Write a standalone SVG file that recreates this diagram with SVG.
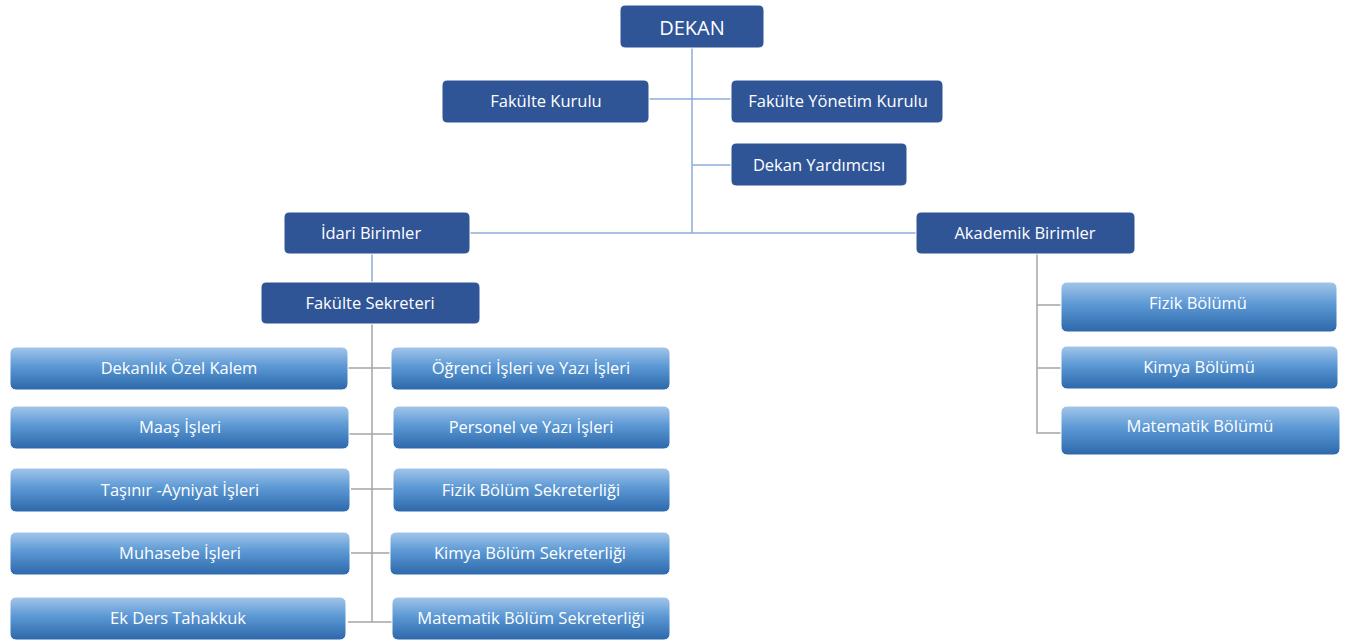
<svg xmlns="http://www.w3.org/2000/svg" width="1356" height="641" viewBox="0 0 1356 641">
<defs>
<linearGradient id="lg" x1="0" y1="0" x2="0" y2="1">
<stop offset="0" stop-color="#a3c6ea"/>
<stop offset="0.45" stop-color="#5b98d4"/>
<stop offset="1" stop-color="#2c68aa"/>
</linearGradient>
<style>
.dk{fill:#2f5597;stroke:#ffffff;stroke-width:1}
.lt{fill:url(#lg);stroke:#ffffff;stroke-width:1}
.t{font-family:"Open Sans","Liberation Sans",sans-serif;font-size:16.5px;fill:#ffffff;text-anchor:middle;dominant-baseline:central}
.bl{stroke:#8eaadb;stroke-width:1.5;fill:none}
.gr{stroke:#a5a5a5;stroke-width:1.5;fill:none}
</style>
</defs>
<rect width="1356" height="641" fill="#ffffff"/>
<g id="connectors">
<path class="bl" d="M692 48V233M649 99H731M692 165H731M470 233H916M372 254V282"/>
<path class="gr" d="M372 324V622M348 368H391M349 434H393M351 489H393M351 553H390M348 622H393"/>
<path class="gr" d="M1037 254V433H1061M1037 305H1061M1037 368H1061"/>
</g>
<g id="dekan"><rect class="dk" x="620" y="5" width="144" height="43" rx="5"/><text class="t" x="692" y="27" style="font-size:20px">DEKAN</text></g>
<g id="fakulte-kurulu"><rect class="dk" x="442" y="80" width="207" height="43" rx="5"/><text class="t" x="546" y="100">Fakülte Kurulu</text></g>
<g id="fakulte-yonetim-kurulu"><rect class="dk" x="731" y="80" width="212" height="43" rx="5"/><text class="t" x="838" y="100">Fakülte Yönetim Kurulu</text></g>
<g id="dekan-yardimcisi"><rect class="dk" x="731" y="143" width="176" height="43" rx="5"/><text class="t" x="819" y="164">Dekan Yardımcısı</text></g>
<g id="idari-birimler"><rect class="dk" x="284" y="212" width="186" height="42" rx="5"/><text class="t" x="371" y="232">İdari Birimler</text></g>
<g id="akademik-birimler"><rect class="dk" x="916" y="212" width="219" height="42" rx="5"/><text class="t" x="1025" y="232">Akademik Birimler</text></g>
<g id="fakulte-sekreteri"><rect class="dk" x="261" y="282" width="219" height="42" rx="5"/><text class="t" x="370" y="302">Fakülte Sekreteri</text></g>
<g id="fizik-bolumu"><rect class="lt" x="1061" y="282" width="276" height="50" rx="6"/><text class="t" x="1198" y="302">Fizik Bölümü</text></g>
<g id="kimya-bolumu"><rect class="lt" x="1061" y="346" width="277" height="43" rx="6"/><text class="t" x="1199" y="366">Kimya Bölümü</text></g>
<g id="matematik-bolumu"><rect class="lt" x="1061" y="406" width="279" height="49" rx="6"/><text class="t" x="1200" y="425">Matematik Bölümü</text></g>
<g id="dekanlik-ozel-kalem"><rect class="lt" x="10" y="347" width="338" height="43" rx="6"/><text class="t" x="179" y="367">Dekanlık Özel Kalem</text></g>
<g id="ogrenci-isleri"><rect class="lt" x="391" y="347" width="279" height="43" rx="6"/><text class="t" x="531" y="367">Öğrenci İşleri ve Yazı İşleri</text></g>
<g id="maas-isleri"><rect class="lt" x="10" y="406" width="339" height="43" rx="6"/><text class="t" x="180" y="426">Maaş İşleri</text></g>
<g id="personel"><rect class="lt" x="393" y="406" width="277" height="43" rx="6"/><text class="t" x="531" y="426">Personel ve Yazı İşleri</text></g>
<g id="tasinir"><rect class="lt" x="10" y="468" width="340" height="44" rx="6"/><text class="t" x="180" y="489">Taşınır -Ayniyat İşleri</text></g>
<g id="fizik-sek"><rect class="lt" x="393" y="468" width="277" height="44" rx="6"/><text class="t" x="531" y="489">Fizik Bölüm Sekreterliği</text></g>
<g id="muhasebe"><rect class="lt" x="10" y="532" width="340" height="43" rx="6"/><text class="t" x="180" y="552">Muhasebe İşleri</text></g>
<g id="kimya-sek"><rect class="lt" x="390" y="532" width="280" height="43" rx="6"/><text class="t" x="530" y="552">Kimya Bölüm Sekreterliği</text></g>
<g id="ek-ders"><rect class="lt" x="10" y="597" width="336" height="43" rx="6"/><text class="t" x="178" y="617">Ek Ders Tahakkuk</text></g>
<g id="matematik-sek"><rect class="lt" x="392" y="597" width="278" height="43" rx="6"/><text class="t" x="531" y="617">Matematik Bölüm Sekreterliği</text></g>
</svg>
